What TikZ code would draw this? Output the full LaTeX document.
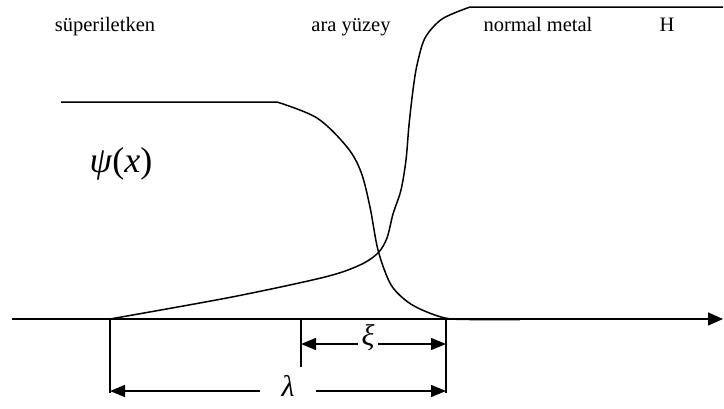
\documentclass[tikz,border=0pt]{standalone}
\usepackage{fontspec}
\setmainfont{Liberation Serif}
\usetikzlibrary{arrows.meta}
\begin{document}
\begin{tikzpicture}[x=1pt,y=-1pt,
  curve/.style={line width=1.5pt,line join=round},
  dimline/.style={line width=1.4pt},
  dimarrow/.style={line width=1.4pt,{Triangle[length=15pt,width=12pt]}-{Triangle[length=15pt,width=12pt]}},
  lbl/.style={font=\fontsize{20.5}{24}\selectfont,anchor=base},
  greek/.style={font=\fontsize{30}{34}\selectfont\itshape,fill=white,inner sep=4pt}]
\useasboundingbox (0,0) rectangle (724,408);
% axis
\coordinate (ax0) at (12,319);
\coordinate (ax1) at (723,319);
\draw[line width=1.5pt,-{Triangle[length=15pt,width=13pt]}] (ax0) -- (ax1);
% psi curve
\draw[curve] (61,102) -- (277,102)
  plot[smooth,tension=0.55] coordinates {(277,102) (317,118) (347,147) (361,172) (370,207) (378,250) (390,283) (404,299) (420,309) (445,318) (470,319.5) (520,319.5)};
% H curve
\draw[curve] plot[smooth,tension=0.5] coordinates {(110,319) (232,297) (325,277) (360,265) (378,253) (387,238) (393,214) (401,190) (406,160) (409,125) (413,90) (417,65) (425,38) (442,19) (470,7)} -- (723,7);
% ticks
\coordinate (t1) at (110,319); \coordinate (t1b) at (110,393);
\coordinate (t2) at (301,319); \coordinate (t2b) at (301,367);
\coordinate (t3) at (446,319); \coordinate (t3b) at (446,393);
\draw[dimline] (t1) -- (t1b);
\draw[dimline] (t2) -- (t2b);
\draw[dimline] (t3) -- (t3b);
% xi dimension
\coordinate (x1) at (301,344); \coordinate (x2) at (446,344);
\draw[dimarrow] (x1) -- (x2);
\node[greek] (xi) at (368,338) {ξ};
% lambda dimension
\coordinate (l1) at (110,391); \coordinate (l2) at (446,391);
\draw[dimarrow] (l1) -- (l2);
\node[greek,inner xsep=22pt] (lam) at (288,386) {λ};
% labels
\node[lbl] (s) at (105,31) {süperiletken};
\node[lbl] (a) at (351,31) {ara yüzey};
\node[lbl] (n) at (538,31) {normal metal};
\node[lbl] (h) at (667,31) {H};
\node[font=\fontsize{36}{40}\selectfont] (psi) at (121,164) {\textit{ψ}(\textit{x})};
\end{tikzpicture}
\end{document}
